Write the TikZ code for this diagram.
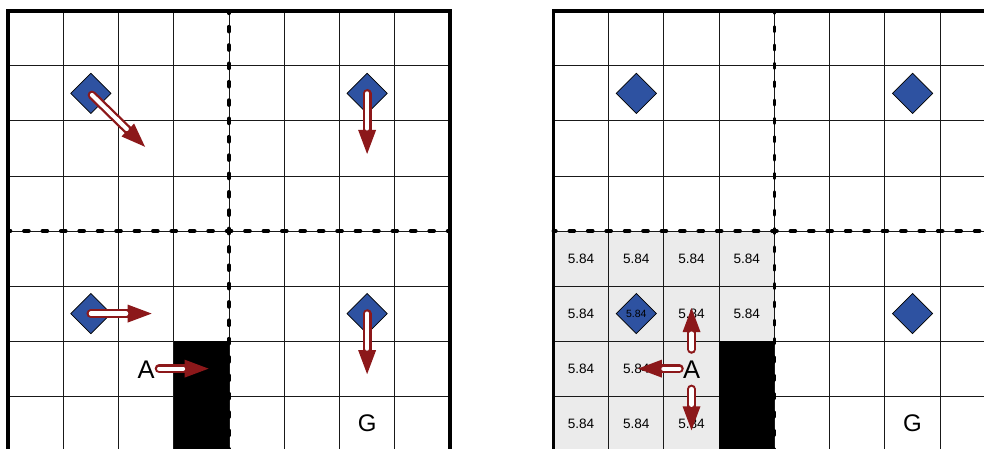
\documentclass[tikz,border=0pt]{standalone}
\usepackage{fontspec}
\setmainfont{Liberation Sans}
\usetikzlibrary{shapes.geometric,arrows.meta}
\definecolor{dblue}{RGB}{46,82,161}
\definecolor{dred}{RGB}{140,24,26}
\definecolor{lgray}{RGB}{235,235,235}
\tikzset{
  gridline/.style={line width=0.9pt, black!90},
  border/.style={line width=3.8pt, line join=miter},
  hdash/.style={line width=3.6pt, line cap=round, dash pattern=on 5pt off 13.42pt, dash phase=2.5pt},
  vdash/.style={line width=3.6pt, line cap=round, dash pattern=on 5pt off 13.35pt, dash phase=2.5pt},
  gem/.style={diamond, draw=black, line width=0.7pt, fill=dblue, minimum width=40.5pt, minimum height=40.5pt, inner sep=0pt, font=\fontsize{10.5}{12}\selectfont},
  val/.style={font=\fontsize{13.6}{15}\selectfont, inner sep=0pt},
  bigletter/.style={font=\fontsize{25.5}{28}\selectfont, inner sep=0pt},
  goalletter/.style={font=\fontsize{24}{28}\selectfont, inner sep=0pt},
  moveshaft/.style={dred, line width=8.8pt, line cap=round, -{Triangle[length=24pt,width=18pt,line width=0pt]}},
  moveinner/.style={white, line width=4.2pt, line cap=round, shorten >=25.5pt},
  wall/.style={fill=black}
}
\newcommand\mvarrow[2]{\draw[moveshaft] (#1) -- (#2); \draw[moveinner] (#1) -- (#2);}
\begin{document}
\begin{tikzpicture}[x=1pt,y=-1pt]
\useasboundingbox (0,0) rectangle (984,448);
\fill[white] (0,0) rectangle (984,448);
\clip (0,0) rectangle (984,448);
% ---------------- left grid ----------------
\begin{scope}[xshift=8pt, yshift=-10.8pt, x=55.25pt, y=-55.05pt]
  \foreach \c in {1,...,7} \draw[gridline] (\c,0) -- (\c,8.3);
  \foreach \r in {1,...,7} \draw[gridline] (0,\r) -- (8,\r);
  \fill[wall] (3,6) rectangle (4,8.3);
  \draw[vdash] (4,0) -- (4,8.3);
  \draw[hdash] (0,4) -- (8,4);
  \draw[border] (0,8.3) -- (0,0) -- (8,0) -- (8,8.3);
  \node[gem] (L1) at (1.5,1.5) {};
  \node[gem] (L2) at (6.5,1.5) {};
  \node[gem] (L3) at (1.5,5.5) {};
  \node[gem] (L4) at (6.5,5.5) {};
  \node[bigletter] (LA) at (2.5,6.52) {A};
  \node[goalletter] (LG) at (6.5,7.5) {G};
  \coordinate (l1s) at (1.52,1.53);
  \coordinate (l1t) at (2.48,2.47);
  \coordinate (l2s) at (6.5,1.5);
  \coordinate (l2t) at (6.5,2.6);
  \coordinate (l3s) at (1.5,5.5);
  \coordinate (l3t) at (2.6,5.5);
  \coordinate (l4s) at (6.5,5.5);
  \coordinate (l4t) at (6.5,6.6);
  \coordinate (l5s) at (2.735,6.5);
  \coordinate (l5t) at (3.63,6.5);
  \mvarrow{l1s}{l1t}
  \mvarrow{l2s}{l2t}
  \mvarrow{l3s}{l3t}
  \mvarrow{l4s}{l4t}
  \mvarrow{l5s}{l5t}
\end{scope}
% ---------------- right grid ----------------
\begin{scope}[xshift=553.4pt, yshift=-10.8pt, x=55.25pt, y=-55.05pt]
  \fill[lgray] (0,4) rectangle (4,8.3);
  \foreach \c in {1,...,8} \draw[gridline] (\c,0) -- (\c,8.3);
  \foreach \r in {1,...,7} \draw[gridline] (0,\r) -- (8.3,\r);
  \fill[wall] (3,6) rectangle (4,8.3);
  \draw[vdash] (4,0) -- (4,8.3);
  \draw[hdash] (0,4) -- (8.3,4);
  \draw[border] (0,8.3) -- (0,0) -- (8.3,0);
  \foreach \c/\r in {0/4,1/4,2/4,3/4,0/5,2/5,3/5,0/6,1/6,0/7,1/7,2/7}
    \node[val] (v\c\r) at (\c+0.5,\r+0.5) {5.84};
  \node[gem] (R1) at (1.5,1.5) {};
  \node[gem] (R2) at (6.5,1.5) {};
  \node[gem] (R3) at (1.5,5.5) {5.84};
  \node[gem] (R4) at (6.5,5.5) {};
  \node[bigletter] (RA) at (2.5,6.52) {A};
  \node[goalletter] (RG) at (6.5,7.5) {G};
  \coordinate (r1s) at (2.5,6.15);
  \coordinate (r1t) at (2.5,5.4);
  \coordinate (r2s) at (2.28,6.5);
  \coordinate (r2t) at (1.53,6.5);
  \coordinate (r3s) at (2.5,6.87);
  \coordinate (r3t) at (2.5,7.62);
  \mvarrow{r1s}{r1t}
  \mvarrow{r2s}{r2t}
  \mvarrow{r3s}{r3t}
\end{scope}
\end{tikzpicture}
\end{document}
